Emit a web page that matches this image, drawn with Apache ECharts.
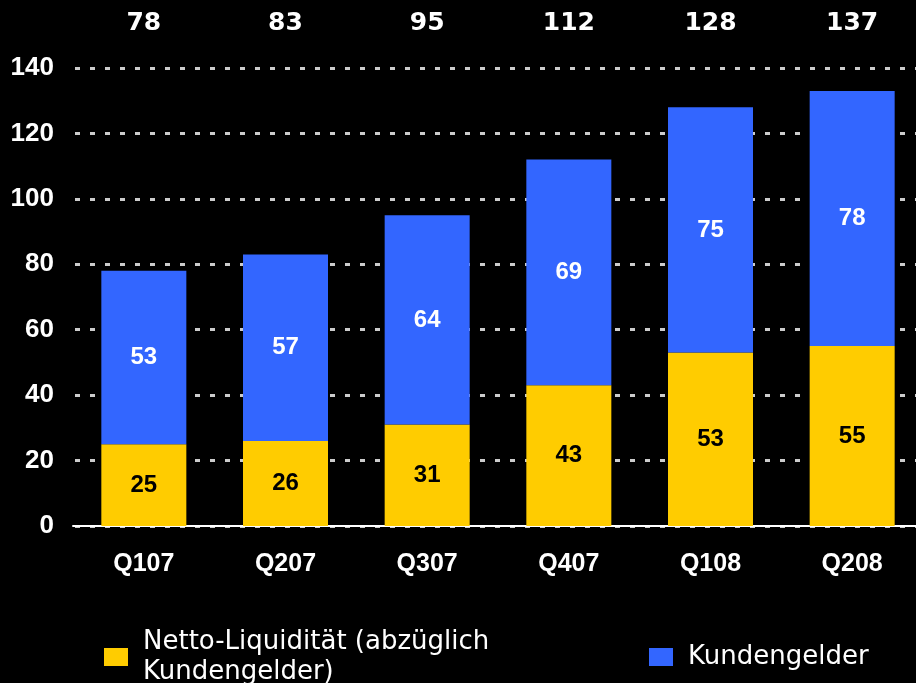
<!DOCTYPE html>
<html>
<head>
<meta charset="utf-8">
<script src="https://cdn.jsdelivr.net/npm/echarts@6/dist/echarts.min.js"></script>
<style>
  html, body { margin: 0; padding: 0; background: #000; }
  #chart { width: 916px; height: 683px; }
</style>
</head>
<body>
<div id="chart"></div>
<script>
// quarters and values
var quarters = ['Q107', 'Q207', 'Q307', 'Q407', 'Q108', 'Q208'];
var nettoLiquiditaet = [25, 26, 31, 43, 53, 55];
var kundengelder = [53, 57, 64, 69, 75, 78];
var totals = [78, 83, 95, 112, 128, 137];

var WIDE = "'DejaVu Sans', Verdana, sans-serif";
var SANS = "'Liberation Sans', Arial, sans-serif";

var myChart = echarts.init(document.getElementById('chart'));

var option = {
    backgroundColor: '#000',
    animation: false,
    grid: { left: 73, top: 68, width: 850, bottom: 157, outerBoundsMode: 'none' },
    legend: [
        {   // first legend item, text wraps on two lines
            data: ['Netto-Liquidität (abzüglich\nKundengelder)'],
            left: 99, top: 622,
            itemWidth: 24, itemHeight: 18, itemGap: 10,
            icon: 'rect',
            textStyle: { color: '#fff', fontFamily: WIDE, fontSize: 26, lineHeight: 30, padding: [0, 0, 0, 10] }
        },
        {
            data: ['Kundengelder'],
            left: 644, top: 639,
            itemWidth: 24, itemHeight: 18, itemGap: 10,
            icon: 'rect',
            textStyle: { color: '#fff', fontFamily: WIDE, fontSize: 26, padding: [0, 0, 0, 10] }
        }
    ],
    xAxis: [
        {   // quarter labels under the bars
            type: 'category',
            data: quarters,
            axisLine: { lineStyle: { color: '#fff', width: 2 } },
            axisTick: { show: false },
            axisLabel: { color: '#fff', fontFamily: SANS, fontWeight: 'bold', fontSize: 25, margin: 26 }
        },
        {   // totals shown along the top
            type: 'category',
            position: 'top',
            data: totals,
            axisLine: { show: false },
            axisTick: { show: false },
            axisLabel: { color: '#fff', fontFamily: WIDE, fontWeight: 'bold', fontSize: 25, margin: 32 }
        }
    ],
    yAxis: {
        type: 'value',
        min: 0, max: 140, interval: 20,
        axisLine: { show: false },
        axisTick: { show: false },
        axisLabel: { color: '#fff', fontFamily: SANS, fontWeight: 'bold', fontSize: 26, margin: 19 },
        splitLine: {
            lineStyle: { color: '#cccccc', width: 3, type: [5, 10], dashOffset: -2 }
        }
    },
    series: [
        {
            name: 'Netto-Liquidität (abzüglich\nKundengelder)',
            type: 'bar',
            stack: 'gesamt',
            barWidth: '60%',
            data: nettoLiquiditaet,
            itemStyle: { color: '#FFCC00' },
            label: { show: true, position: 'inside', color: '#000', fontFamily: SANS, fontWeight: 'bold', fontSize: 24 }
        },
        {
            name: 'Kundengelder',
            type: 'bar',
            stack: 'gesamt',
            barWidth: '60%',
            data: kundengelder,
            itemStyle: { color: '#3366FF' },
            label: { show: true, position: 'inside', color: '#fff', fontFamily: SANS, fontWeight: 'bold', fontSize: 24 }
        }
    ]
};
myChart.setOption(option);
</script>
</body>
</html>
